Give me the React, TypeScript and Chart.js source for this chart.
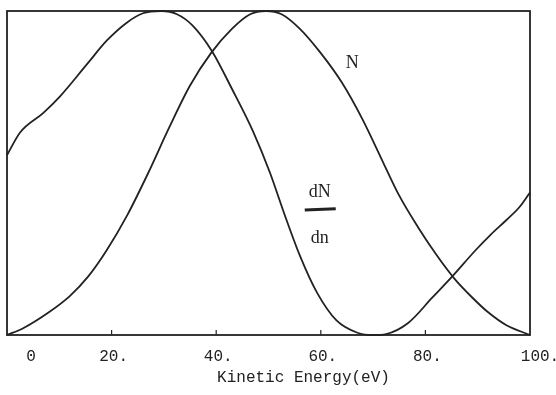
import React, { useEffect, useRef } from "react";
import { Chart, registerables } from "chart.js";

Chart.register(...registerables);

// dN/dn curve (peak near 30 eV)
const dNdnEnergy = [0, 2.5, 6.9, 10.1, 15.3, 19.1, 22.9, 26, 29.5, 32.5, 35.5, 39.2, 43, 47, 50.3, 53, 56, 59.3, 63, 67, 70, 72.5, 76.7, 81.3, 85.1, 89.5, 92.5, 95.5, 98, 100];
const dNdnValues = [0.555, 0.625, 0.685, 0.736, 0.836, 0.909, 0.964, 0.993, 1.0, 0.99, 0.955, 0.876, 0.76, 0.63, 0.5, 0.375, 0.245, 0.13, 0.045, 0.007, 0, 0.003, 0.037, 0.115, 0.18, 0.26, 0.31, 0.355, 0.395, 0.44];

// N curve (peak near 50 eV)
const nEnergy = [0, 3, 8, 12, 15.5, 19, 23, 27, 31, 35, 39, 43, 46.5, 49.5, 52.5, 56, 60, 64, 68, 72, 75, 78.5, 82, 85.5, 89, 92, 95.5, 100];
const nValues = [0, 0.02, 0.07, 0.12, 0.18, 0.26, 0.37, 0.5, 0.64, 0.77, 0.87, 0.945, 0.99, 1.0, 0.99, 0.945, 0.87, 0.78, 0.665, 0.53, 0.43, 0.335, 0.25, 0.175, 0.115, 0.07, 0.03, 0];

const xTicks = [0, 20, 40, 60, 80, 100];
const xTickLabels = ["0", "20.", "40.", "60.", "80.", "100."];
const xTitle = "Kinetic Energy(eV)";

export default function App() {
  const ref = useRef<HTMLCanvasElement | null>(null);

  useEffect(() => {
    document.body.style.margin = "0";
    const canvas = ref.current;
    if (!canvas) return;
    const ink = "#222222";

    const framePlugin = {
      id: "framePlugin",
      afterDraw(chart: any) {
        const { ctx, chartArea } = chart;
        const xs = chart.scales.x;
        const ys = chart.scales.y;
        ctx.save();
        ctx.strokeStyle = ink;
        ctx.lineWidth = 1.8;
        ctx.strokeRect(chartArea.left, chartArea.top, chartArea.right - chartArea.left, chartArea.bottom - chartArea.top);
        // inner ticks
        ctx.lineWidth = 1.2;
        xTicks.forEach((v) => {
          if (v === 0 || v === 100) return;
          const px = xs.getPixelForValue(v);
          ctx.beginPath();
          ctx.moveTo(px, chartArea.bottom);
          ctx.lineTo(px, chartArea.bottom - 5);
          ctx.stroke();
        });
        // tick labels
        ctx.fillStyle = ink;
        ctx.font = "16px 'Liberation Mono', 'DejaVu Sans Mono', monospace";
        ctx.textAlign = "center";
        ctx.textBaseline = "middle";
        xTicks.forEach((v, i) => {
          const dx = v === 0 ? 24 : v === 100 ? 10 : 2;
          ctx.fillText(xTickLabels[i], xs.getPixelForValue(v) + dx, chartArea.bottom + 22);
        });
        ctx.fillText(xTitle, (chartArea.left + chartArea.right) / 2 + 35, chartArea.bottom + 43);
        // curve labels
        ctx.font = "18px 'Liberation Serif', 'DejaVu Serif', serif";
        ctx.fillText("N", xs.getPixelForValue(66), ys.getPixelForValue(0.84));
        const fx = xs.getPixelForValue(59.8);
        ctx.fillText("dN", fx, ys.getPixelForValue(0.44));
        ctx.fillText("dn", fx, ys.getPixelForValue(0.3));
        ctx.lineWidth = 3;
        ctx.beginPath();
        ctx.moveTo(fx - 15, ys.getPixelForValue(0.386));
        ctx.lineTo(fx + 16, ys.getPixelForValue(0.39));
        ctx.stroke();
        ctx.restore();
      },
    };

    const chart = new Chart(canvas, {
      type: "line",
      data: {
        datasets: [
          {
            label: "dN/dn",
            data: dNdnEnergy.map((e, i) => ({ x: e, y: dNdnValues[i] })),
            borderColor: ink,
            borderWidth: 1.8,
            pointRadius: 0,
            cubicInterpolationMode: "monotone",
            fill: false,
            clip: false as any,
          },
          {
            label: "N",
            data: nEnergy.map((e, i) => ({ x: e, y: nValues[i] })),
            borderColor: ink,
            borderWidth: 1.8,
            pointRadius: 0,
            cubicInterpolationMode: "monotone",
            fill: false,
            clip: false as any,
          },
        ],
      },
      options: {
        animation: false,
        responsive: false,
        layout: { padding: { left: 7, right: 26, top: 11, bottom: 60 } },
        plugins: { legend: { display: false }, tooltip: { enabled: false }, title: { display: false } },
        scales: {
          x: { type: "linear", min: 0, max: 100, display: false },
          y: { type: "linear", min: 0, max: 1, display: false },
        },
      },
      plugins: [framePlugin],
    });
    return () => chart.destroy();
  }, []);

  return <canvas ref={ref} width={556} height={395} style={{ display: "block" }} />;
}
